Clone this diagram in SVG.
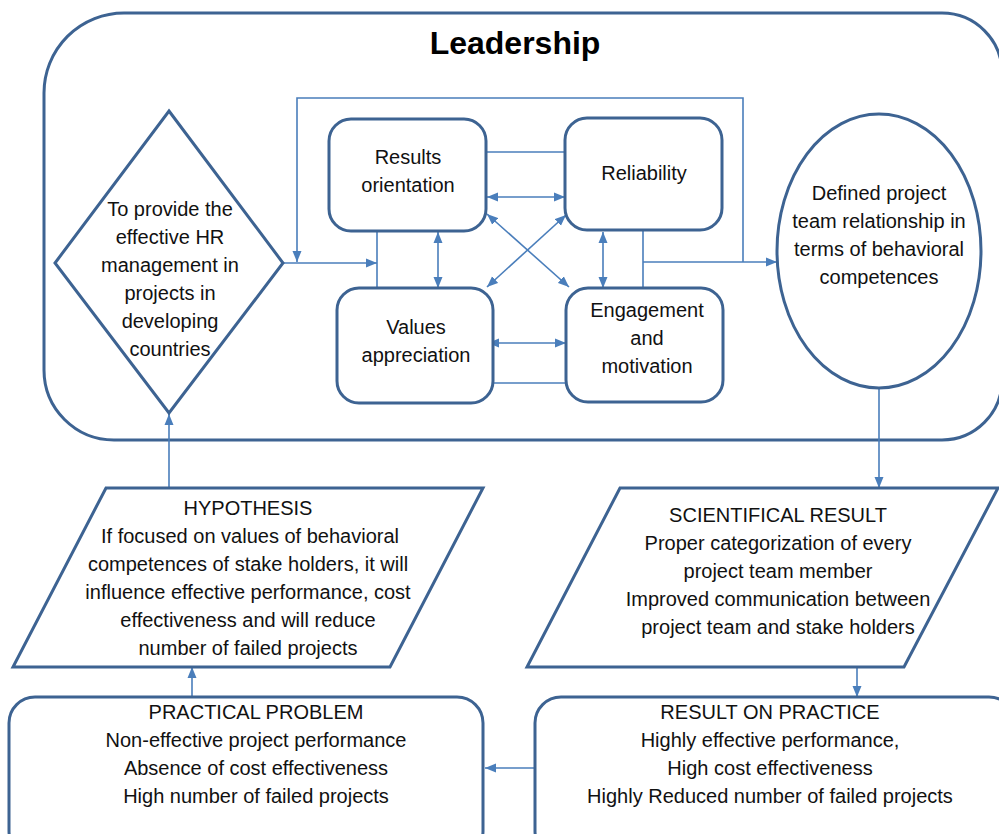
<svg xmlns="http://www.w3.org/2000/svg" width="999" height="834" viewBox="0 0 999 834">
  <defs>
    <marker id="arrowEnd" markerUnits="userSpaceOnUse" markerWidth="12" markerHeight="10" refX="11" refY="5" orient="auto">
      <path d="M0,0.5 L11,5 L0,9.5 Z" fill="#4a7ebb"/>
    </marker>
    <marker id="arrowStart" markerUnits="userSpaceOnUse" markerWidth="12" markerHeight="10" refX="1" refY="5" orient="auto">
      <path d="M12,0.5 L1,5 L12,9.5 Z" fill="#4a7ebb"/>
    </marker>
    <style>
      .node { fill: #ffffff; stroke: #3d6392; stroke-width: 3; }
      .frame { fill: none; stroke: #3d6392; stroke-width: 3; }
      .link { fill: none; stroke: #4a7ebb; stroke-width: 1.6; }
      .one { marker-end: url(#arrowEnd); }
      .two { marker-start: url(#arrowStart); marker-end: url(#arrowEnd); }
      text { font-family: "Liberation Sans", Arial, sans-serif; font-size: 20px; fill: #111111; text-anchor: middle; }
      .title { font-size: 32px; font-weight: bold; fill: #000000; }
    </style>
  </defs>

  <!-- Leadership frame -->
  <g id="leadership">
    <path class="frame" d="M124,13 H942 A60,60 0 0 1 1002,73 V380 A60,60 0 0 1 942,440 H114 A70,70 0 0 1 44,370 V93 A80,80 0 0 1 124,13 Z"/>
    <text class="title" x="515" y="54">Leadership</text>
  </g>

  <!-- Connectors -->
  <g id="connectors">
    <!-- feedback loop over the competence block -->
    <path class="link one" d="M743,262 V98 H297 V262"/>
    <path class="link one" d="M283,263 H377"/>
    <path class="link" d="M377,232 V288"/>
    <path class="link" d="M643,230 V288"/>
    <path class="link one" d="M643,262 H777"/>
    <!-- links between the four competences -->
    <path class="link" d="M486,152 H565"/>
    <path class="link two" d="M487,197 H565"/>
    <path class="link two" d="M438,232 V288"/>
    <path class="link two" d="M603,232 V288"/>
    <path class="link two" d="M487,214 L569,287"/>
    <path class="link two" d="M566,215 L487,287"/>
    <path class="link two" d="M488,343 H566"/>
    <path class="link" d="M487,383 H566"/>
    <!-- research flow -->
    <path class="link one" d="M879,388 V488"/>
    <path class="link one" d="M857,667 V697"/>
    <path class="link one" d="M534,768 H485"/>
    <path class="link one" d="M192,697 V667"/>
    <path class="link one" d="M169,488 V414"/>
  </g>

  <!-- Goal -->
  <g id="goal">
    <polygon class="node" points="169,111 283,263 169,413 55,263"/>
    <text x="170" y="216">To provide the</text>
    <text x="170" y="244">effective HR</text>
    <text x="170" y="272">management in</text>
    <text x="170" y="300">projects in</text>
    <text x="170" y="328">developing</text>
    <text x="170" y="356">countries</text>
  </g>

  <g id="results-orientation">
    <rect class="node" x="329" y="119" width="157" height="112" rx="22"/>
    <text x="408" y="164">Results</text>
    <text x="408" y="192">orientation</text>
  </g>

  <g id="reliability">
    <rect class="node" x="565" y="118" width="157" height="112" rx="22"/>
    <text x="644" y="180">Reliability</text>
  </g>

  <g id="values-appreciation">
    <rect class="node" x="337" y="288" width="156" height="115" rx="22"/>
    <text x="416" y="334">Values</text>
    <text x="416" y="362">appreciation</text>
  </g>

  <g id="engagement-motivation">
    <rect class="node" x="566" y="288" width="157" height="114" rx="22"/>
    <text x="647" y="317">Engagement</text>
    <text x="647" y="345">and</text>
    <text x="647" y="373">motivation</text>
  </g>

  <g id="team-relationship">
    <ellipse class="node" cx="879" cy="251" rx="102" ry="137"/>
    <text x="879" y="200">Defined project</text>
    <text x="879" y="228">team relationship in</text>
    <text x="879" y="256">terms of behavioral</text>
    <text x="879" y="284">competences</text>
  </g>

  <g id="hypothesis">
    <polygon class="node" points="106,488 483,488 390,667 13,667"/>
    <text x="248" y="515">HYPOTHESIS</text>
    <text x="250" y="543">If focused on values of behavioral</text>
    <text x="248" y="571">competences of stake holders, it will</text>
    <text x="248" y="599">influence effective performance, cost</text>
    <text x="248" y="627">effectiveness and will reduce</text>
    <text x="248" y="655">number of failed projects</text>
  </g>

  <g id="scientific-result">
    <polygon class="node" points="620,488 998,488 904,667 527,667"/>
    <text x="778" y="522">SCIENTIFICAL RESULT</text>
    <text x="778" y="550">Proper categorization of every</text>
    <text x="778" y="578">project team member</text>
    <text x="778" y="606">Improved communication between</text>
    <text x="778" y="634">project team and  stake holders</text>
  </g>

  <g id="practical-problem">
    <rect class="node" x="9" y="697" width="474" height="160" rx="26"/>
    <text x="256" y="719">PRACTICAL PROBLEM</text>
    <text x="256" y="747">Non-effective project performance</text>
    <text x="256" y="775">Absence of cost effectiveness</text>
    <text x="256" y="803">High number of failed projects</text>
  </g>

  <g id="result-on-practice">
    <rect class="node" x="535" y="697" width="480" height="160" rx="26"/>
    <text x="770" y="719">RESULT ON PRACTICE</text>
    <text x="770" y="747">Highly effective performance,</text>
    <text x="770" y="775">High cost effectiveness</text>
    <text x="770" y="803">Highly Reduced number of failed projects</text>
  </g>
</svg>
